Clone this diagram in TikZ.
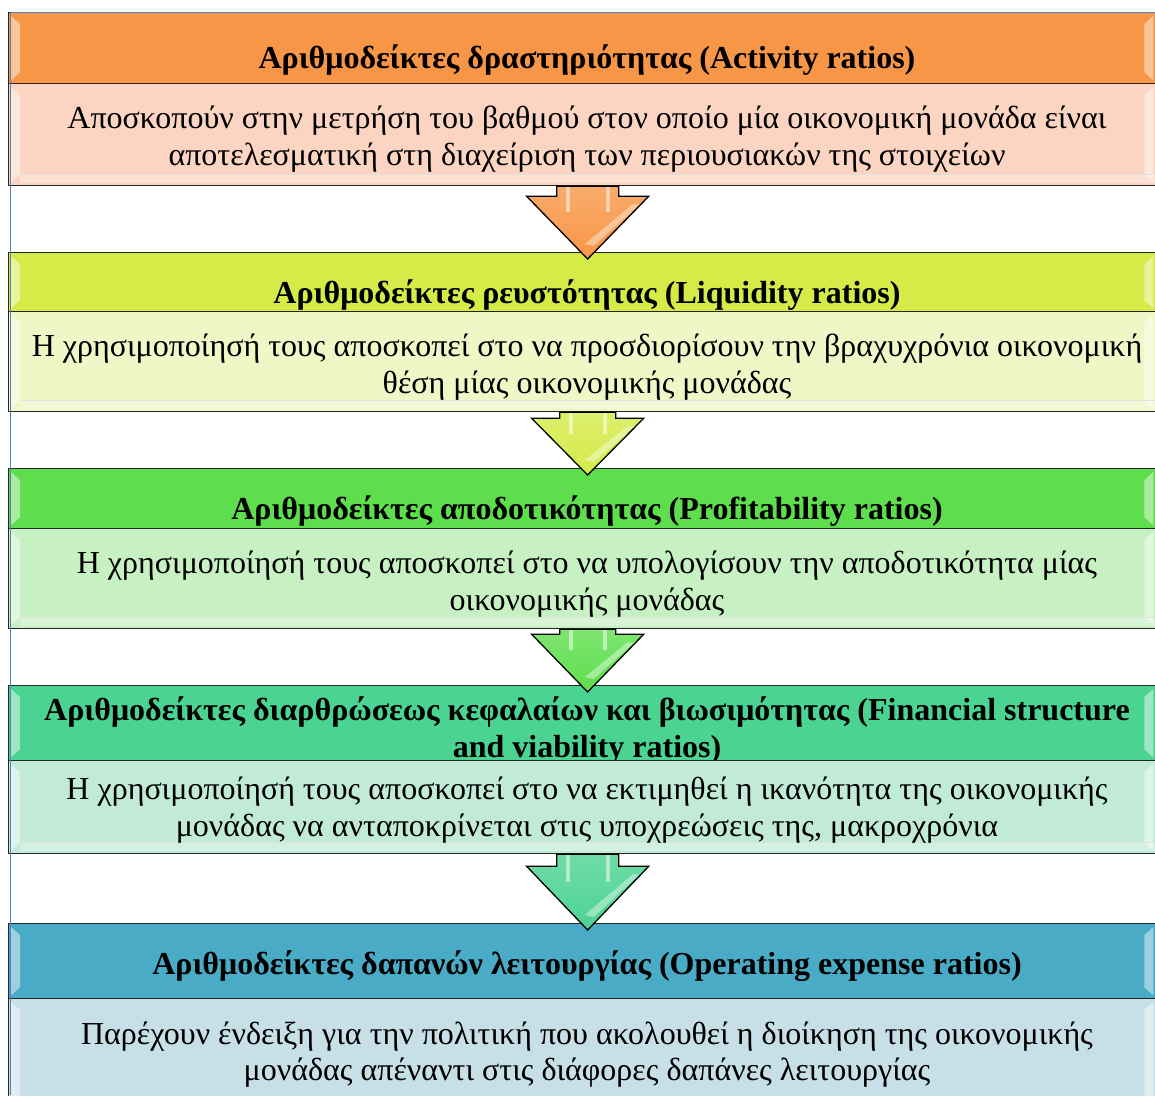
\documentclass[tikz,border=0pt]{standalone}
\usepackage{fontspec}
\setmainfont{Liberation Serif}
\usetikzlibrary{calc}
\definecolor{orH}{HTML}{F79646}
\definecolor{orB}{HTML}{FBD5C1}
\definecolor{liH}{HTML}{D4EB48}
\definecolor{liB}{HTML}{F1F6C6}
\definecolor{grH}{HTML}{5EDE4C}
\definecolor{grB}{HTML}{C7F1C2}
\definecolor{teH}{HTML}{4BD391}
\definecolor{teB}{HTML}{C1EBD8}
\definecolor{blH}{HTML}{4AABC6}
\definecolor{blB}{HTML}{C7DFE6}
\definecolor{frameblue}{HTML}{4F81BD}
\newcommand\mygloss[1]{%
  \fill[white,opacity=.45] ($(#1.north west)+(3,4)$) -- ($(#1.north west)+(12,12)$) -- ($(#1.south west)+(12,-12)$) -- ($(#1.south west)+(3,-4)$) -- cycle;
  \fill[white,opacity=.45] ($(#1.north east)+(-14,4)$) -- ($(#1.north east)+(-23,12)$) -- ($(#1.south east)+(-23,-12)$) -- ($(#1.south east)+(-14,-4)$) -- cycle;}
\newcommand\mybottom[1]{%
  \fill[white,opacity=.3] ($(#1.south west)+(12,-12)$) rectangle ($(#1.south east)+(-12,-3)$);
  \draw[black!12,line width=1pt] ($(#1.south west)+(12,-12)$) -- ($(#1.south east)+(-12,-12)$);}
% #1 from node, #2 to node, #3 head offset, #4 colour, #5 half head width, #6 half shaft width
\newcommand\myarrow[6]{%
  \path[draw=black,line width=1.3pt,line join=miter,top color=#4!80!white,bottom color=#4]
    ($(#1.south)+(-#6,0)$) -- ($(#1.south)+(#6,0)$) -- ($(#1.south)+(#6,#3)$) -- ($(#1.south)+(#5,#3)$)
    -- ($(#2.north)+(0,7)$) -- ($(#1.south)+(-#5,#3)$) -- ($(#1.south)+(-#6,#3)$) -- cycle;
  \fill[white,opacity=.5] ($(#1.south)+(-#6+9,1)$) rectangle ($(#1.south)+(-#6+13,#3+16)$);
  \fill[white,opacity=.5] ($(#1.south)+(#6-13,1)$) rectangle ($(#1.south)+(#6-9,#3+16)$);
  \fill[white,opacity=.4] ($(#1.south)+(#5-16,#3+8)$) -- ($(#1.south)+(#5-9,#3+8)$) -- ($(#2.north)+(6,-6)$) -- ($(#2.north)+(-3,-8)$) -- cycle;}
\begin{document}
\begin{tikzpicture}[x=1pt,y=-1pt,
  box/.style={draw=black!85,line width=1.3pt,inner sep=0pt,minimum width=1158pt,anchor=north west},
  ht/.style={font=\bfseries\fontsize{32}{38}\selectfont,anchor=base,inner sep=0pt},
  bt/.style={font=\fontsize{32}{38}\selectfont,anchor=base,inner sep=0pt}]
\useasboundingbox (0,0) rectangle (1155,1095);
\clip (0,0) rectangle (1155,1095);
\fill[white] (0,0) rectangle (1155,1095);
% boxes
\node[box,fill=orH,minimum height=71pt] (h1) at (8,12) {};
\node[box,fill=orB,minimum height=102pt] (b1) at (8,83) {};
\node[box,fill=liH,minimum height=59pt] (h2) at (8,252) {};
\node[box,fill=liB,minimum height=100pt] (b2) at (8,311) {};
\node[box,fill=grH,minimum height=60pt] (h3) at (8,468) {};
\node[box,fill=grB,minimum height=100pt] (b3) at (8,528) {};
\node[box,fill=teH,minimum height=75pt] (h4) at (8,685) {};
\node[box,fill=teB,minimum height=93pt] (b4) at (8,760) {};
\node[box,fill=blH,minimum height=75pt] (h5) at (8,923) {};
\node[box,fill=blB,minimum height=112pt] (b5) at (8,998) {};
\foreach \n in {h1,b1,h2,b2,h3,b3,h4,b4,h5,b5} {\mygloss{\n}}
\foreach \n in {b1,b2,b3,b4,b5} {\mybottom{\n}}
% arrows
\myarrow{b1}{h2}{10}{orH}{61}{31}
\myarrow{b2}{h3}{6}{liH}{56}{28}
\myarrow{b3}{h4}{5}{grH}{56}{28}
\myarrow{b4}{h5}{12}{teH}{61}{31}
% texts
\node[ht] (t1) at (587,68) {Αριθμοδείκτες δραστηριότητας (Activity ratios)};
\node[bt] (s1a) at (587,128) {Αποσκοπούν στην μετρήση του βαθμού στον οποίο μία οικονομική μονάδα είναι};
\node[bt] (s1b) at (587,165) {αποτελεσματική στη διαχείριση των περιουσιακών της στοιχείων};
\node[ht] (t2) at (587,303) {Αριθμοδείκτες ρευστότητας (Liquidity ratios)};
\node[bt] (s2a) at (587,356) {Η χρησιμοποίησή τους αποσκοπεί στο να προσδιορίσουν την βραχυχρόνια οικονομική};
\node[bt] (s2b) at (587,393) {θέση μίας οικονομικής μονάδας};
\node[ht] (t3) at (587,519) {Αριθμοδείκτες αποδοτικότητας (Profitability ratios)};
\node[bt] (s3a) at (587,573) {Η χρησιμοποίησή τους αποσκοπεί στο να υπολογίσουν την αποδοτικότητα μίας};
\node[bt] (s3b) at (587,610) {οικονομικής μονάδας};
\begin{scope}
\clip (8,685) rectangle (1166,759);
\node[ht] (t4a) at (587,720) {Αριθμοδείκτες διαρθρώσεως κεφαλαίων και βιωσιμότητας (Financial structure};
\node[ht] (t4b) at (587,757) {and viability ratios)};
\end{scope}
\node[bt] (s4a) at (587,799) {Η χρησιμοποίησή τους αποσκοπεί στο να εκτιμηθεί η ικανότητα της οικονομικής};
\node[bt] (s4b) at (587,836) {μονάδας να ανταποκρίνεται στις υποχρεώσεις της, μακροχρόνια};
\node[ht] (t5) at (587,974) {Αριθμοδείκτες δαπανών λειτουργίας (Operating expense ratios)};
\node[bt] (s5a) at (587,1044) {Παρέχουν ένδειξη για την πολιτική που ακολουθεί η διοίκηση της οικονομικής};
\node[bt] (s5b) at (587,1080) {μονάδας απέναντι στις διάφορες δαπάνες λειτουργίας};
% frame line
\draw[frameblue,line width=1pt] (10,1095) -- (10,12) -- (1155,12);
\end{tikzpicture}
\end{document}
